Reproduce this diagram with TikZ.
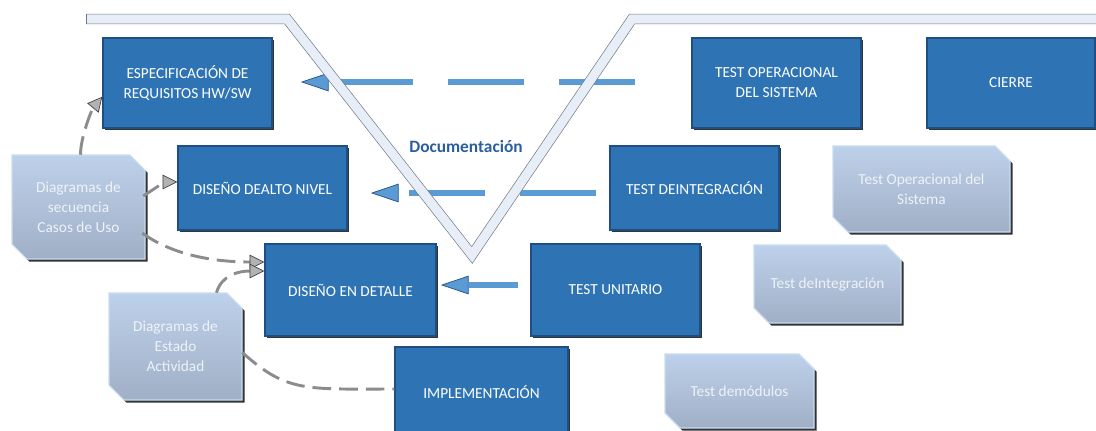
\documentclass[tikz,border=0pt]{standalone}
\usepackage{fontspec}
\setmainfont{Carlito}
\usetikzlibrary{arrows.meta,calc,shadows}
\definecolor{boxblue}{HTML}{2E74B5}
\definecolor{boxedge}{HTML}{1F4F82}
\definecolor{arrowblue}{HTML}{5B9BD5}
\definecolor{arrowedge}{HTML}{2F5A8F}
\definecolor{lbtop}{HTML}{BED1EA}
\definecolor{lbbot}{HTML}{A0AFC6}
\definecolor{lbedge}{HTML}{C9DCF0}
\definecolor{lbtext}{HTML}{EEF2F8}
\definecolor{vfill}{HTML}{E8EEF7}
\definecolor{vedge}{HTML}{6E7887}
\definecolor{doccol}{HTML}{2B5E9E}
\newcommand\mybbox[6]{%
  \node[bbox, minimum width={(#4-#2)*0.75pt}, minimum height={(#5-#3)*0.75pt}] (#1) at ({(#2+#4)/2},{(#3+#5)/2}) {#6};}
\newcommand\mylbox[6]{%
  \fill[black!80] ({#2+2.5},{#3+2.5}) -- ({#4-15+2.5},{#3+2.5}) -- ({#4+2.5},{#3+15+2.5}) -- ({#4+2.5},{#5+2.5}) -- ({#2+15+2.5},{#5+2.5}) -- ({#2+2.5},{#5-15+2.5}) -- cycle;
  \shadedraw[top color=lbtop, bottom color=lbbot, draw=lbedge, line width=0.8pt] (#2,#3) -- ({#4-15},#3) -- (#4,{#3+15}) -- (#4,#5) -- ({#2+15},#5) -- (#2,{#5-15}) -- cycle;
  \node[ltext, minimum width={(#4-#2)*0.75pt}, minimum height={(#5-#3)*0.75pt}] (#1) at ({(#2+#4)/2},{(#3+#5)/2}) {#6};}
\begin{document}
\begin{tikzpicture}[x=0.75pt,y=-0.75pt,
  bbox/.style={draw=boxedge, line width=1.1pt, fill=boxblue, text=white, align=center, inner sep=0pt,
    font=\fontsize{11.5}{15}\selectfont,
    drop shadow={shadow xshift=1.2pt, shadow yshift=-1.2pt, opacity=0.8, fill=black}},
  ltext/.style={draw=none, text=lbtext, align=center, inner sep=0pt, font=\fontsize{11.5}{15}\selectfont},
  barrow/.style={draw=arrowblue, line width=4.5pt,
    -{Triangle[length=21pt,width=14pt,fill=arrowblue,color=arrowedge,line width=0.6pt]}},
  gconn/.style={draw=black!45, line width=2.2pt, dash pattern=on 14pt off 6pt,
    -{Triangle[length=11pt,width=11pt,fill=black!30,color=black!75,line width=0.5pt]}},
  gline/.style={draw=black!45, line width=2.2pt, dash pattern=on 14pt off 6pt},
  vband/.style={draw=vedge, line width=0.5pt, double=vfill, double distance=6.8pt, line join=miter}
]
\useasboundingbox (0,0) rectangle (1096,430);

% boxes
\mybbox{espec}{103}{38}{272}{128}{ESPECIFICACIÓN DE\\REQUISITOS HW/SW}
\mybbox{topsys}{692}{38}{861}{128}{TEST OPERACIONAL\\DEL SISTEMA}
\mybbox{cierre}{927}{38}{1095}{128}{CIERRE}
\mybbox{dan}{178}{146}{347}{230}{DISEÑO DEALTO NIVEL}
\mybbox{tdi}{610}{146}{779}{230}{TEST DEINTEGRACIÓN}
\mybbox{ded}{265}{244}{436}{336}{DISEÑO EN DETALLE}
\mybbox{tu}{531}{244}{700}{336}{TEST UNITARIO}
\mybbox{impl}{395}{347}{568}{437}{IMPLEMENTACIÓN}

\mylbox{seq}{12}{155}{145}{259}{Diagramas de\\secuencia\\Casos de Uso}
\mylbox{est}{109}{293}{242}{400}{Diagramas de\\Estado\\Actividad}
\mylbox{lto}{833}{146}{1010}{232}{Test Operacional del\\Sistema}
\mylbox{lti}{754}{245}{901}{323}{Test deIntegración}
\mylbox{ltm}{665}{354}{814}{428}{Test demódulos}

% blue arrows
\coordinate (a1s) at (635,82);
\coordinate (a2s) at (596,193);
\coordinate (a3s) at (518,285);
\draw[barrow, dash pattern=on 57pt off 26.25pt] (a1s) -- ($(espec.east)+(28,-1)$);
\draw[barrow, dash pattern=on 57pt off 26.25pt] (a2s) -- ($(dan.east)+(23,5)$);
\draw[barrow] (a3s) -- ($(ded.east)+(4,-5)$);

% V band
\draw[vband] (86,19) -- (287,19) -- (472,255) -- (632,19) -- (1110,19);
\draw[draw=vedge, line width=0.5pt] (86,14) -- (86,24);

\node[font=\fontsize{13}{15}\selectfont\bfseries, text=doccol, inner sep=0pt] (doc) at (466,146) {Documentación};

% gray connectors
\draw[gconn] ($(seq.north)+(2,0)$) .. controls +(0,-18) and +(-10,12) .. ($(espec.south west)+(0,-32)$);
\draw[gconn] ($(seq.east)+(-2,-11)$) .. controls +(12,-8) and +(-12,0) .. ($(dan.west)+(0,-6)$);
\draw[gconn] ($(seq.east)+(-3,26)$) .. controls +(30,22) and +(-50,0) .. ($(ded.west)+(0,-28)$);
\draw[gconn] ($(est.north)+(41,0)$) .. controls +(5,-18) and +(-25,0) .. ($(ded.west)+(0,-19)$);
\draw[gline] ($(est.east)+(0,6)$) .. controls +(45,40) and +(-90,0) .. ($(impl.west)+(0,-3)$);
\end{tikzpicture}
\end{document}
